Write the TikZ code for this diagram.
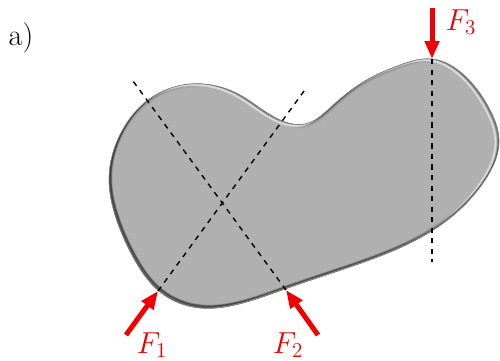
\documentclass[tikz,border=0pt]{standalone}
\usepackage{amsmath}
\usepackage{xcolor}
\usetikzlibrary{
    arrows.meta,
    hobby,
    positioning
}
\definecolor{bodygray}{RGB}{176,176,176}
\definecolor{forcered}{RGB}{240,0,0}
\def\bodyoutline{plot[closed hobby] coordinates {
    (148,100) (190,84) (240,95) (285,122) (305,124) (330,108) (360,84)
    (400,65) (432,59) (465,76) (490,110) (499,140) (485,180) (450,218)
    (350,267) (285,289) (235,305) (200,308) (160,292) (133,257) (115,215)
    (109,180) (122,131)}}

\begin{document}
\begin{tikzpicture}[
    x=0.02cm, y=-0.02cm,
    force/.style={-{Triangle[length=18*0.02cm,width=14*0.02cm]}, line width=0.1cm, forcered},
    axis/.style={dashed, line width=0.8pt, black},
    flabel/.style={font=\LARGE, text=forcered, inner sep=0pt}
  ]
    \useasboundingbox (0,0) rectangle (500,360);
    \fill[bodygray] \bodyoutline;
    \begin{scope}
      \clip \bodyoutline;
      % soft rim, then the light streak on the upper right
      \foreach \w/\o in {7/0.05, 5/0.08, 3/0.14, 1.5/0.25}
        \draw[black, line width=\w*0.02cm, opacity=\o] \bodyoutline;
      \begin{scope}[shift={(-3.5,1.2)}]
        \draw[bodygray, line width=3*0.02cm] \bodyoutline;
        \draw[white, line width=2.4*0.02cm, opacity=0.25] \bodyoutline;
        \draw[white, line width=1.2*0.02cm, opacity=0.45] \bodyoutline;
      \end{scope}
      \begin{scope}[shift={(1.5,-2)}]
        \draw[black, line width=3*0.02cm, opacity=0.25] \bodyoutline;
        \draw[black, line width=1.5*0.02cm, opacity=0.35] \bodyoutline;
      \end{scope}
    \end{scope}
    \draw[black!50, line width=0.4pt] \bodyoutline;

    \coordinate(p1) at (158,291);
    \coordinate(p2) at (286,290);
    \coordinate(p3) at (432,59);
    \coordinate(e1) at (307,87);
    \coordinate(e2) at (133,81);
    \coordinate(e3) at (432,262);
    \coordinate(s1) at (126,335);
    \coordinate(s2) at (318,335);
    \coordinate(s3) at (432,8);

    \draw[axis](p1)--(e1); \draw[axis](p2)--(e2); \draw[axis](p3)--(e3);
    \draw[force](s1)--(p1); \draw[force](s2)--(p2); \draw[force](s3)--(p3);

    \node[flabel](f1) at (152,345) {$F_1$};
    \node[flabel](f2) at (288,345) {$F_2$};
    \node[flabel](f3) at (461,22) {$F_3$};
    \node[font=\LARGE, inner sep=0pt](lab) at (21,38) {a)};
  \end{tikzpicture}
\end{document}
